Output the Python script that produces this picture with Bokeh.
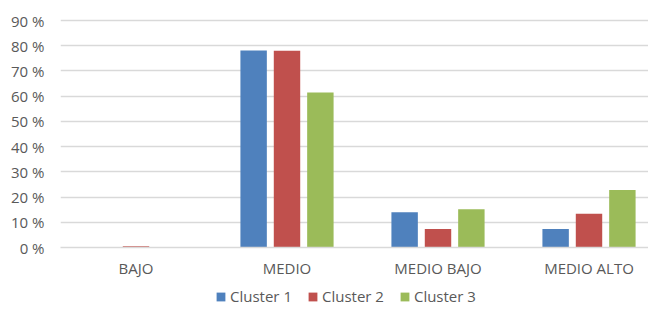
from bokeh.plotting import figure
from bokeh.models import Range1d, FixedTicker, Legend, LegendItem, ColumnDataSource
from bokeh.layouts import column
from bokeh.embed import file_html
from bokeh.resources import INLINE
import numpy as np

categories = ["BAJO", "MEDIO", "MEDIO BAJO", "MEDIO ALTO"]
series_names = ["Cluster 1", "Cluster 2", "Cluster 3"]
cluster1 = [0.0, 78.1, 14.0, 7.3]
cluster2 = [0.5, 78.0, 7.3, 13.4]
cluster3 = [0.0, 61.5, 15.2, 22.8]
y_ticks = [0, 10, 20, 30, 40, 50, 60, 70, 80, 90]
y_labels = ["0 %", "10 %", "20 %", "30 %", "40 %", "50 %", "60 %", "70 %", "80 %", "90 %"]

colors = ["#4F81BD", "#C0504D", "#9BBB59"]
text_color = "#595959"
grid_color = "#D9D9D9"
FONT = "Open Sans"
FS = "15px"

p = figure(width=648, height=280, output_backend="svg", toolbar_location=None,
           x_range=Range1d(0, 3.894), y_range=Range1d(0, 92),
           min_border_left=60, min_border_right=0, min_border_top=15, min_border_bottom=33)
p.outline_line_color = None
p.background_fill_color = "white"

centers = np.arange(len(categories)) + 0.5
offsets = [-0.221, 0.0, 0.221]
sources = []
for vals, off, col in zip([cluster1, cluster2, cluster3], offsets, colors):
    src = ColumnDataSource(dict(x=centers + off, top=vals))
    sources.append(src)
    p.vbar(x="x", top="top", bottom=0, width=0.175, source=src,
           fill_color=col, line_color=None)

# axes
p.xaxis.ticker = FixedTicker(ticks=list(centers))
p.xaxis.major_label_overrides = {float(c): lab for c, lab in zip(centers, categories)}
p.xaxis.axis_line_color = grid_color
p.xaxis.axis_line_width = 1.3
p.xaxis.major_tick_line_color = None
p.xaxis.minor_tick_line_color = None
p.xaxis.major_tick_out = 0
p.xaxis.major_tick_in = 0
p.xaxis.major_label_standoff = 10
p.xaxis.major_label_text_font = FONT
p.xaxis.major_label_text_font_size = FS
p.xaxis.major_label_text_color = text_color

p.yaxis.ticker = FixedTicker(ticks=y_ticks)
p.yaxis.major_label_overrides = {t: lab for t, lab in zip(y_ticks, y_labels)}
p.yaxis.axis_line_color = None
p.yaxis.major_tick_line_color = None
p.yaxis.minor_tick_line_color = None
p.yaxis.major_tick_out = 0
p.yaxis.major_tick_in = 0
p.yaxis.major_label_standoff = 16
p.yaxis.major_label_text_font = FONT
p.yaxis.major_label_text_font_size = FS
p.yaxis.major_label_text_color = text_color

p.xgrid.grid_line_color = None
p.ygrid.grid_line_color = grid_color
p.ygrid.grid_line_width = 1.3

# legend strip (same series, drawn out of view so only the legend shows)
lg = figure(width=648, height=26, output_backend="svg", toolbar_location=None,
            x_range=Range1d(0, 3.894), y_range=Range1d(1000, 1001),
            min_border_left=60, min_border_right=0, min_border_top=0, min_border_bottom=0)
lg.axis.visible = False
lg.grid.grid_line_color = None
lg.outline_line_color = None
lg_renderers = [lg.vbar(x="x", top="top", bottom=0, width=0.175, source=s,
                        fill_color=c, line_color=None) for s, c in zip(sources, colors)]
legend = Legend(items=[LegendItem(label=n, renderers=[r]) for n, r in zip(series_names, lg_renderers)],
                orientation="horizontal", location=(155, 0),
                glyph_width=11, glyph_height=11, label_height=11,
                label_standoff=4, spacing=15, padding=0, margin=0,
                border_line_color=None, background_fill_alpha=0,
                label_text_font=FONT, label_text_font_size=FS,
                label_text_color=text_color)
lg.add_layout(legend, "center")

open("out.html", "w").write(file_html(column(p, lg, spacing=0), INLINE))
